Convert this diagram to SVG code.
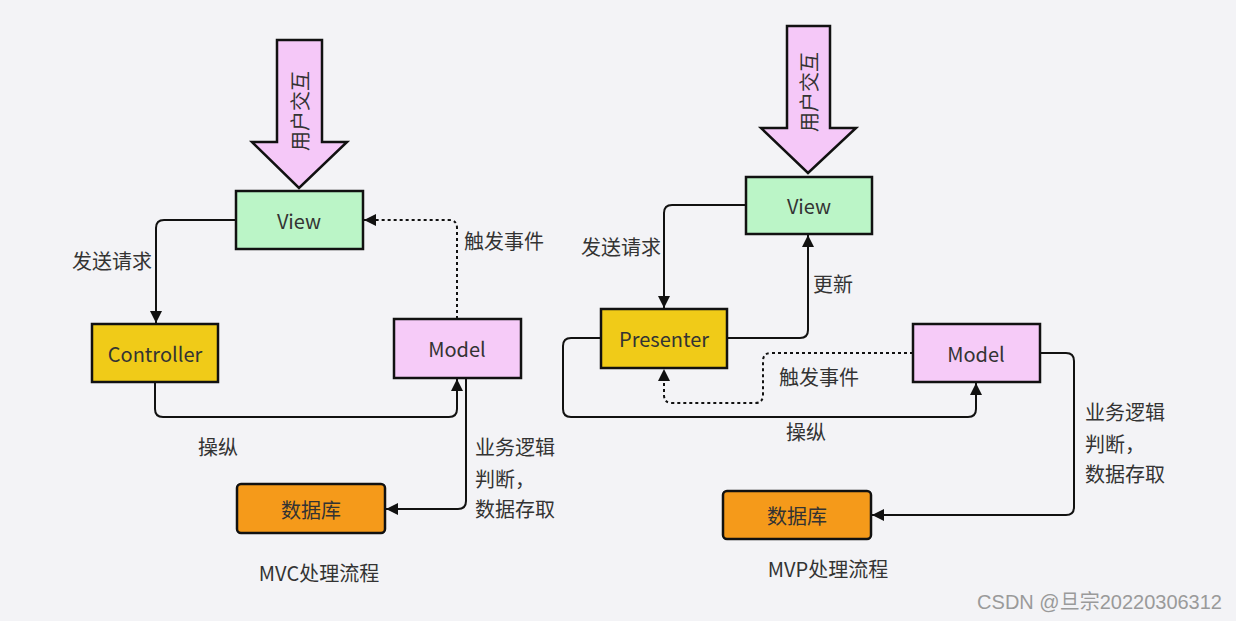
<svg xmlns="http://www.w3.org/2000/svg" width="1236" height="621" viewBox="0 0 1236 621">
<defs>
<marker id="ah" markerUnits="userSpaceOnUse" markerWidth="12" markerHeight="12" viewBox="0 0 12 12" refX="12" refY="6" orient="auto">
<path d="M0,0 L12,6 L0,12 z" fill="#111"/>
</marker>
<style>
.box{stroke:#111;stroke-width:2.5}
.view{fill:#bbf5c7}
.ctrl{fill:#f0cb18}
.model{fill:#f6cbf8}
.db{fill:#f59a1a}
.big{fill:#f5c8f8;stroke:#111;stroke-width:2.5;stroke-linejoin:miter}
.t{font-family:"Noto Sans CJK SC","Noto Sans",sans-serif;fill:#333;font-size:20px}
.c{text-anchor:middle;dominant-baseline:central}
.ln{fill:none;stroke:#111;stroke-width:2;marker-end:url(#ah)}
.dot{stroke-dasharray:3,3}
</style>
</defs>
<rect width="1236" height="621" fill="#f3f3f6"/>

<g id="mvc-user">
<polygon class="big" points="277,40 322,40 322,142 347,142 299,188 252,142 277,142"/>
<text class="t c" font-size="20" transform="translate(299,111) rotate(-90)">用户交互</text>
</g>
<g id="mvc-view">
<rect class="box view" x="236" y="191" width="127" height="58"/>
<text class="t c" x="299" y="220">View</text>
</g>
<g id="mvc-controller">
<rect class="box ctrl" x="92" y="324" width="126" height="58"/>
<text class="t c" x="155" y="353">Controller</text>
</g>
<g id="mvc-model">
<rect class="box model" x="394" y="319" width="127" height="59"/>
<text class="t c" x="457" y="348">Model</text>
</g>
<g id="mvc-db">
<rect class="box db" x="237" y="484" width="148" height="49" rx="4"/>
<text class="t c" x="311" y="509" font-size="14">数据库</text>
</g>

<g id="mvp-user">
<polygon class="big" points="787,26 830,26 830,128 856,128 808,173 761,128 787,128"/>
<text class="t c" font-size="20" transform="translate(808,92) rotate(-90)">用户交互</text>
</g>
<g id="mvp-view">
<rect class="box view" x="746" y="177" width="126" height="57"/>
<text class="t c" x="809" y="205">View</text>
</g>
<g id="mvp-presenter">
<rect class="box ctrl" x="601" y="309" width="126" height="59"/>
<text class="t c" x="664" y="338">Presenter</text>
</g>
<g id="mvp-model">
<rect class="box model" x="913" y="324" width="127" height="58"/>
<text class="t c" x="976" y="353">Model</text>
</g>
<g id="mvp-db">
<rect class="box db" x="723" y="491" width="148" height="48" rx="4"/>
<text class="t c" x="797" y="515" font-size="14">数据库</text>
</g>

<g id="connectors">
<path class="ln" d="M236,220 H164 Q156,220 156,228 V323"/>
<path class="ln" d="M155,382 V409 Q155,417 163,417 H449 Q457,417 457,409 V379"/>
<path class="ln dot" d="M457,319 V228 Q457,220 449,220 H364"/>
<path class="ln" d="M466,378 V501 Q466,509 458,509 H386"/>

<path class="ln" d="M746,205 H672 Q664,205 664,213 V308"/>
<path class="ln" d="M727,338 H800 Q808,338 808,330 V235"/>
<path class="ln dot" d="M913,353 H771 Q763,353 763,361 V395 Q763,403 755,403 H672 Q664,403 664,395 V369"/>
<path class="ln" d="M601,338 H571 Q563,338 563,346 V409 Q563,417 571,417 H968 Q976,417 976,409 V383"/>
<path class="ln" d="M1040,353 H1066 Q1074,353 1074,361 V507 Q1074,515 1066,515 H872"/>
</g>

<g id="labels">
<text class="t" x="72" y="269">发送请求</text>
<text class="t" x="464" y="249">触发事件</text>
<text class="t" x="198" y="455">操纵</text>
<text class="t" x="475" y="455">业务逻辑</text>
<text class="t" x="475" y="487">判断，</text>
<text class="t" x="475" y="517">数据存取</text>
<text class="t c" x="319" y="572">MVC处理流程</text>

<text class="t" x="581" y="255">发送请求</text>
<text class="t" x="813" y="292">更新</text>
<text class="t" x="779" y="385">触发事件</text>
<text class="t" x="786" y="440">操纵</text>
<text class="t" x="1085" y="420">业务逻辑</text>
<text class="t" x="1085" y="452">判断，</text>
<text class="t" x="1085" y="482">数据存取</text>
<text class="t c" x="828" y="568">MVP处理流程</text>

<text x="1222" y="609" text-anchor="end" font-family="Liberation Sans,Noto Sans CJK SC,sans-serif" font-size="20" fill="#9a9a9a">CSDN @旦宗20220306312</text>
</g>
</svg>
